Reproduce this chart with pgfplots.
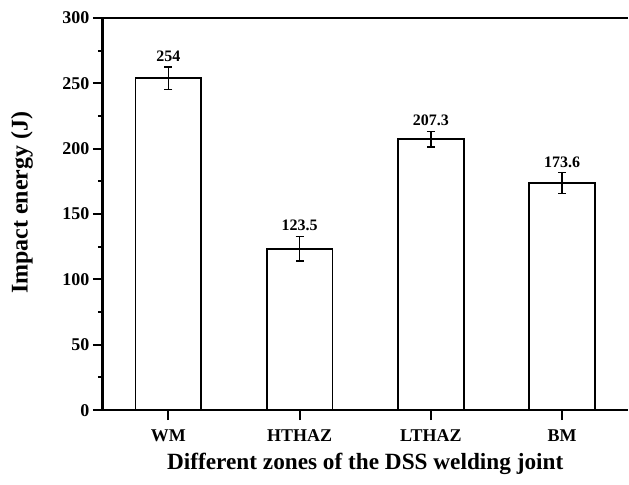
\documentclass[border=0pt]{standalone}
\usepackage{pgfplots}
\pgfplotsset{compat=1.18}
\usepackage{fontspec}
\setmainfont{Liberation Serif}
\begin{document}
\begin{tikzpicture}
\begin{axis}[
  name=ax,
  width=526pt, height=393pt, scale only axis,
  xmin=-0.5, xmax=3.5, ymin=0, ymax=300,
  axis x line*=bottom, axis y line*=left,
  axis line style={line width=2.6pt, -},
  xtick={0,1,2,3},
  xticklabels={WM,HTHAZ,LTHAZ,BM},
  ytick={0,50,100,150,200,250,300},
  minor y tick num=1,
  tick align=outside,
  major tick length=10pt, minor tick length=5pt,
  tick style={line width=2pt, black},
  /pgf/number format/assume math mode=true,
  tick label style={font=\fontsize{18}{20}\selectfont\bfseries},
  xticklabel style={yshift=-6pt},
  xlabel={Different zones of the DSS welding joint},
  ylabel={Impact energy (J)},
  xlabel style={font=\fontsize{23.3}{26}\selectfont\bfseries, at={(axis description cs:0.5,-0.138)}, anchor=center},
  ylabel style={font=\fontsize{24}{27}\selectfont\bfseries, at={(axis description cs:-0.154,0.529)}, anchor=center},
  clip=false,
]
\addplot[ybar, bar width=66pt, fill=white, draw=black, line width=1.8pt,
  error bars/.cd, y dir=both, y explicit,
  error bar style={line width=1.3pt, black},
  error mark options={rotate=90, mark size=4pt, line width=1.3pt, black}]
  table[x=x, y=y, y error=e] {
x y e
0 254 8.5
1 123.5 9.5
2 207.3 6
3 173.6 8
};
\addplot[draw=none, mark=none, nodes near coords, point meta=explicit symbolic,
  every node near coord/.append style={font=\fontsize{16}{18}\selectfont\bfseries, anchor=south, yshift=2pt, black}]
  table[x=x, y expr=\thisrow{y}+\thisrow{e}, meta=lab] {
x y e lab
0 254 8.5 254
1 123.5 9.5 123.5
2 207.3 6 207.3
3 173.6 8 173.6
};
\draw[line width=2.6pt] (rel axis cs:0,1) -- (rel axis cs:1,1);
\end{axis}
\path (ax.south west) ++(-103pt,-74pt) rectangle ++(629pt,485pt);
\end{tikzpicture}
\end{document}
